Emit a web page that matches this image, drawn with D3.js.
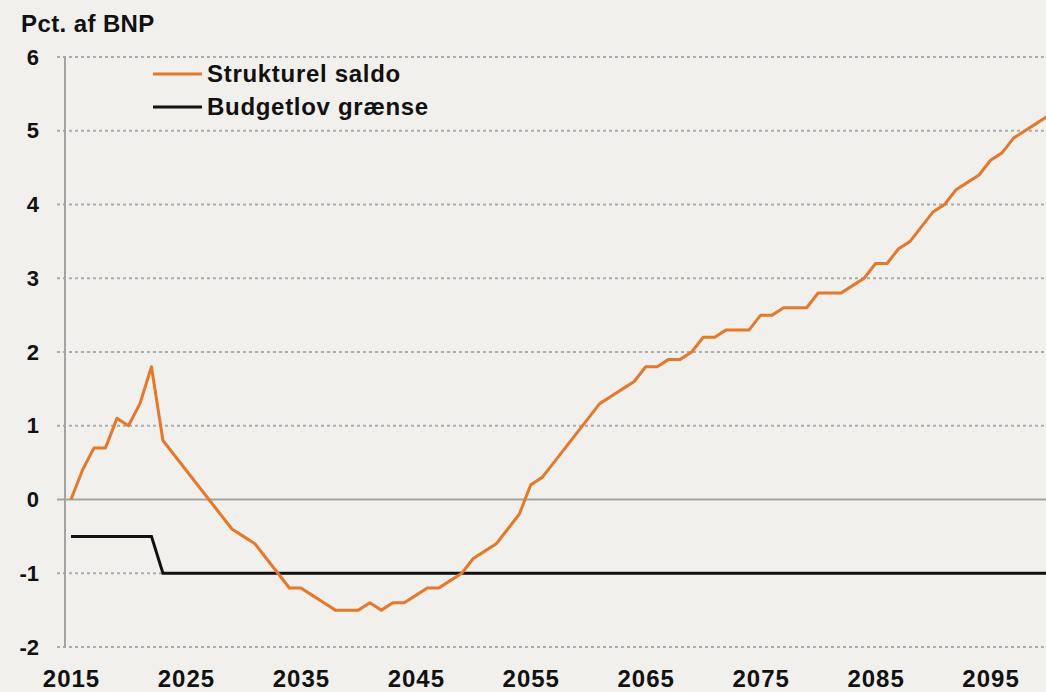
<!DOCTYPE html>
<html>
<head>
<meta charset="utf-8">
<script src="https://cdn.jsdelivr.net/npm/d3@7"></script>
<style>
  body { margin: 0; background: #f1f0ed; }
  svg { display: block; font-family: "Liberation Sans", Arial, sans-serif; font-weight: bold; }
</style>
</head>
<body>
<div id="chart"></div>
<script>
// data
var years = d3.range(2015, 2101);
var saldo = [
  0.0, 0.4, 0.7, 0.7, 1.1, 1.0, 1.3, 1.8, 0.8, 0.6,          // 2015-2024
  0.4, 0.2, 0.0, -0.2, -0.4, -0.5, -0.6, -0.8, -1.0, -1.2,   // 2025-2034
  -1.2, -1.3, -1.4, -1.5, -1.5, -1.5, -1.4, -1.5, -1.4, -1.4, // 2035-2044
  -1.3, -1.2, -1.2, -1.1, -1.0, -0.8, -0.7, -0.6, -0.4, -0.2, // 2045-2054
  0.2, 0.3, 0.5, 0.7, 0.9, 1.1, 1.3, 1.4, 1.5, 1.6,          // 2055-2064
  1.8, 1.8, 1.9, 1.9, 2.0, 2.2, 2.2, 2.3, 2.3, 2.3,          // 2065-2074
  2.5, 2.5, 2.6, 2.6, 2.6, 2.8, 2.8, 2.8, 2.9, 3.0,          // 2075-2084
  3.2, 3.2, 3.4, 3.5, 3.7, 3.9, 4.0, 4.2, 4.3, 4.4,          // 2085-2094
  4.6, 4.7, 4.9, 5.0, 5.1, 5.2                               // 2095-2100
];
var budgetYears = [2015, 2022, 2023, 2100];
var budgetValues = [-0.5, -0.5, -1, -1];
var xTicks = [2015, 2025, 2035, 2045, 2055, 2065, 2075, 2085, 2095];
var yTicks = [-2, -1, 0, 1, 2, 3, 4, 5, 6];
var seriesNames = ["Strukturel saldo", "Budgetlov grænse"];
var seriesColors = ["#e4782b", "#111111"];

var width = 1046, height = 692;

var svg = d3.select("#chart").append("svg")
  .attr("width", width)
  .attr("height", height);

var x = d3.scaleLinear().domain([2015, 2100]).range([71, 1048]);
var y = d3.scaleLinear().domain([-2, 6]).range([647, 57]);

// dotted gridlines
svg.append("g")
  .selectAll("line")
  .data(yTicks.filter(function(d) { return d !== 0; }))
  .enter().append("line")
    .attr("x1", 57).attr("x2", width)
    .attr("y1", function(d) { return y(d); })
    .attr("y2", function(d) { return y(d); })
    .attr("stroke", "#a9adb2")
    .attr("stroke-width", 2)
    .attr("stroke-dasharray", "3,3");

// zero line and vertical axis
svg.append("line")
  .attr("x1", 57).attr("x2", width)
  .attr("y1", y(0)).attr("y2", y(0))
  .attr("stroke", "#a3a3a3").attr("stroke-width", 2);
svg.append("line")
  .attr("x1", 65).attr("x2", 65)
  .attr("y1", y(6)).attr("y2", y(-2))
  .attr("stroke", "#a3a3a3").attr("stroke-width", 2);

// y labels (plain hyphen for minus, as in the original)
var yAxis = svg.append("g")
  .attr("transform", "translate(41,0)")
  .call(d3.axisLeft(y).tickValues(yTicks).tickSize(0).tickPadding(2).tickFormat(function(d) { return String(d); }));
yAxis.select(".domain").remove();
yAxis.selectAll("text")
  .style("font-size", "22px")
  .style("font-family", "Liberation Sans, Arial, sans-serif")
  .style("font-weight", "bold")
  .attr("fill", "#111");

// x labels
var xAxis = svg.append("g")
  .attr("transform", "translate(0,687)")
  .call(d3.axisBottom(x).tickValues(xTicks).tickSize(0).tickFormat(function(d) { return String(d); }));
xAxis.select(".domain").remove();
xAxis.selectAll("text")
  .attr("y", 0).attr("dy", 0)
  .style("font-size", "24px")
  .style("letter-spacing", "1px")
  .style("font-family", "Liberation Sans, Arial, sans-serif")
  .style("font-weight", "bold")
  .attr("fill", "#111");

// title
svg.append("text")
  .attr("x", 21).attr("y", 32)
  .style("font-size", "24px")
  .style("letter-spacing", "0.4px")
  .attr("fill", "#111")
  .text("Pct. af BNP");

// lines
var line = d3.line()
  .x(function(d) { return x(d[0]); })
  .y(function(d) { return y(d[1]); });

svg.append("path")
  .datum(d3.zip(budgetYears, budgetValues))
  .attr("d", line)
  .attr("fill", "none")
  .attr("stroke", seriesColors[1])
  .attr("stroke-width", 3);

svg.append("path")
  .datum(d3.zip(years, saldo))
  .attr("d", line)
  .attr("fill", "none")
  .attr("stroke", seriesColors[0])
  .attr("stroke-width", 3)
  .attr("stroke-linejoin", "round");

// legend
var legend = svg.append("g").selectAll("g")
  .data(seriesNames)
  .enter().append("g")
    .attr("transform", function(d, i) { return "translate(153," + (74 + i * 33) + ")"; });
legend.append("line")
  .attr("x1", 0).attr("x2", 49)
  .attr("stroke", function(d, i) { return seriesColors[i]; })
  .attr("stroke-width", 3);
legend.append("text")
  .attr("x", 54).attr("y", 8)
  .style("font-size", "24px")
  .style("letter-spacing", "0.7px")
  .attr("fill", "#111")
  .text(function(d) { return d; });
</script>
</body>
</html>
